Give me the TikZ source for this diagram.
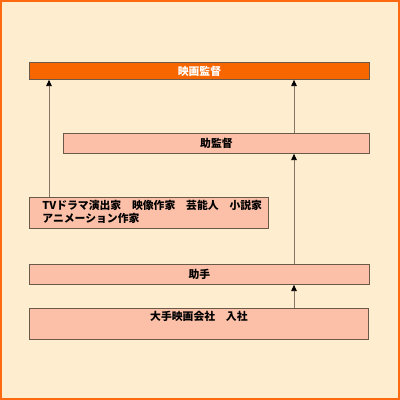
\documentclass[tikz,border=0pt]{standalone}
\usepackage{xcolor}
\usepackage{fontspec}
\usetikzlibrary{arrows.meta}
\newfontfamily\jpfont{Noto Sans CJK JP}
\definecolor{paper}{HTML}{FFEDD0}
\definecolor{frameorange}{HTML}{FF6A10}
\definecolor{topfill}{HTML}{F86600}
\definecolor{stepfill}{HTML}{FCC0A8}
\definecolor{edge}{HTML}{6A5A4A}
\definecolor{wire}{HTML}{857565}

\tikzset{
  box/.style={draw=edge, line width=0.6pt, fill=stepfill, anchor=north west,
    inner sep=0pt, font=\jpfont\bfseries\fontsize{7.7}{8.5}\selectfont},
  topbox/.style={box, fill=topfill, text=white},
  arr/.style={draw=wire, line width=0.6pt, -{Triangle[width=4pt,length=4.5pt,color=black]}}
}

\begin{document}
\begin{tikzpicture}
\useasboundingbox (0,0) rectangle (10,10);
% Background and frame
\fill[paper] (0,0) rectangle (10,10);
\draw[frameorange, line width=1.4pt] (0.025,0.025) rectangle (9.975,9.975);

% Goal
\node[topbox, minimum width=8.5cm, minimum height=0.425cm] (kantoku) at (0.725,8.45) {映画監督};

% Assistant director
\node[box, minimum width=7.65cm, minimum height=0.5cm] (jokantoku) at (1.575,6.675) {助監督};

% Other careers
\node[box, minimum width=5.975cm, minimum height=0.775cm] (other) at (0.725,5.075)
  {\makebox[5.975cm][l]{\hspace{0.325cm}\begin{tabular}{@{}l@{}}
    TVドラマ演出家　映像作家　芸能人　小説家\\
    アニメーション作家
  \end{tabular}}};

% Assistant
\node[box, minimum width=8.5cm, minimum height=0.5cm] (joshu) at (0.725,3.4) {助手};

% Entry
\node[box, minimum width=8.475cm, minimum height=0.775cm, text depth=0.38cm] (nyusha) at (0.725,2.3) {大手映画会社　入社};

% Connectors
\coordinate (lx) at (1.225,0);
\coordinate (rx) at (7.35,0);
\draw[arr] (lx |- other.north) -- (lx |- kantoku.south);
\draw[arr] (rx |- jokantoku.north) -- (rx |- kantoku.south);
\draw[arr] (rx |- joshu.north) -- (rx |- jokantoku.south);
\draw[arr] (rx |- nyusha.north) -- (rx |- joshu.south);
\end{tikzpicture}
\end{document}
